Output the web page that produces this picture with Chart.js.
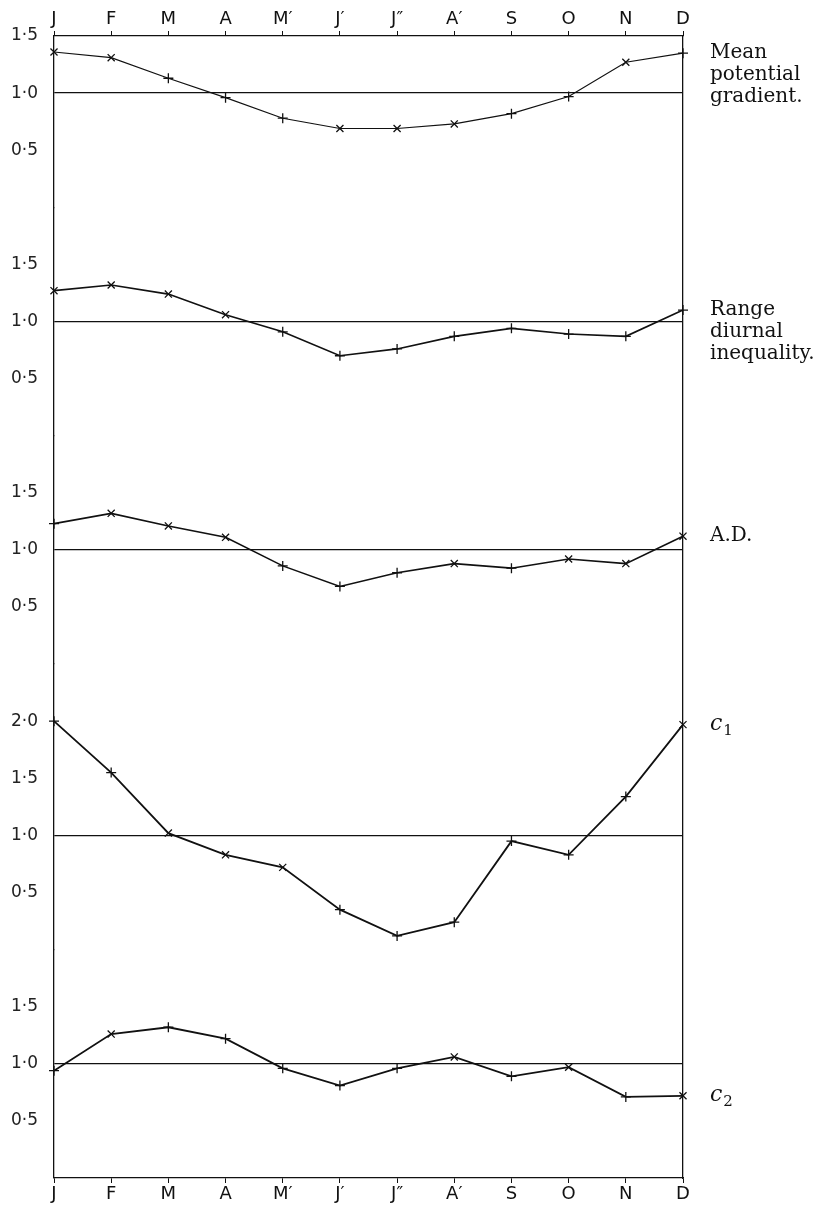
<!DOCTYPE html>
<html>
<head>
<meta charset="utf-8">
<script src="https://cdn.jsdelivr.net/npm/chart.js@4.4.1/dist/chart.umd.min.js"></script>
<style>
    html, body { margin: 0; padding: 0; background: #fff; }
    #wrap { width: 828px; height: 1211px; position: relative; }
</style>
</head>
<body>
<div id="wrap"><canvas id="curves"></canvas></div>
<script>
// months along top and bottom
const months = ['J', 'F', 'M', 'A', 'M′', 'J′', 'J″', 'A′', 'S', 'O', 'N', 'D'];

// values (ratio to yearly mean)
const meanGradient = [1.36, 1.31, 1.13, 0.96, 0.78, 0.69, 0.69, 0.73, 0.82, 0.97, 1.27, 1.35];
const rangeDiurnal = [1.27, 1.32, 1.24, 1.06, 0.91, 0.70, 0.76, 0.87, 0.94, 0.89, 0.87, 1.10];
const adValues     = [1.23, 1.32, 1.21, 1.11, 0.86, 0.68, 0.80, 0.88, 0.84, 0.92, 0.88, 1.12];
const c1Values     = [2.00, 1.55, 1.02, 0.83, 0.72, 0.35, 0.12, 0.24, 0.95, 0.83, 1.34, 1.97];
const c2Values     = [0.94, 1.26, 1.32, 1.22, 0.96, 0.81, 0.96, 1.06, 0.89, 0.97, 0.71, 0.72];

// tick labels shown on each panel
const panelTicks = [
    [0.5, 1.0, 1.5],
    [0.5, 1.0, 1.5],
    [0.5, 1.0, 1.5],
    [0.5, 1.0, 1.5, 2.0],
    [0.5, 1.0, 1.5]
];
const panelMax = [1.5, 2, 2, 2.5, 2];

const panels = [
    { id: 'p1', data: meanGradient, label: ['Mean', 'potential', 'gradient.'], marks: 'xx+++xxx++x+', width: 1.2 },
    { id: 'p2', data: rangeDiurnal, label: ['Range', 'diurnal', 'inequality.'], marks: 'xxxx++++++++', width: 1.6 },
    { id: 'p3', data: adValues, label: ['A.D.'], marks: '+xxx+++x+xxx', width: 1.6 },
    { id: 'p4', data: c1Values, label: ['c', '1'], marks: '++xxx++++++x', width: 1.8 },
    { id: 'p5', data: c2Values, label: ['c', '2'], marks: '+x+++++x+x+x', width: 1.8 }
];

function fmt(v) {
    return v.toFixed(1).replace('.', '·');
}

var monthFont = { family: 'DejaVu Sans', size: 18 };

var scales = {
    x: {
        type: 'category',
        position: 'bottom',
        offset: false,
        border: { color: '#111', width: 1.3 },
        grid: { drawOnChartArea: false, color: '#111', tickLength: 5 },
        ticks: { color: '#111', font: monthFont, padding: 1, maxRotation: 0, autoSkip: false },
        afterFit: function(s) { s.height = 33; }
    },
    xTop: {
        type: 'category',
        position: 'top',
        offset: false,
        border: { color: '#111', width: 1.3 },
        grid: { drawOnChartArea: false, color: '#111', tickLength: 5 },
        ticks: { color: '#111', font: monthFont, padding: 1, maxRotation: 0, autoSkip: false },
        afterFit: function(s) { s.height = 36; }
    },
    yRight: {
        type: 'linear',
        position: 'right',
        border: { color: '#111', width: 1.3 },
        grid: { display: false },
        ticks: { display: false },
        afterFit: function(s) { s.width = 145; }
    }
};

panels.forEach(function(p, i) {
    scales[p.id] = {
        type: 'linear',
        position: 'left',
        stack: 'panels',
        stackWeight: panelMax[i],
        weight: panels.length - i,   // left boxes are laid out in reverse
        min: 0,
        max: panelMax[i],
        border: { color: '#111', width: 1.3 },
        grid: {
            color: function(ctx) { return ctx.tick && ctx.tick.value === 1 ? '#111' : 'rgba(0,0,0,0)'; },
            lineWidth: 1.3,
            drawTicks: false
        },
        ticks: {
            color: '#222',
            font: { family: 'DejaVu Sans', size: 17 },
            padding: 16,
            callback: function(v) { return fmt(v); }
        },
        afterBuildTicks: function(s) {
            s.ticks = panelTicks[i].map(function(v) { return { value: v }; });
        },
        afterFit: function(s) { s.width = 54; }
    };
});

var datasets = panels.map(function(p) {
    return {
        label: p.label.join(' '),
        data: p.data,
        yAxisID: p.id,
        xAxisID: 'x',
        borderColor: '#111',
        borderWidth: p.width,
        tension: 0,
        fill: false,
        pointStyle: p.marks.split('').map(function(m) { return m === 'x' ? 'crossRot' : 'cross'; }),
        pointRadius: 5,
        pointBorderWidth: 1.3,
        pointBorderColor: '#111',
        pointBackgroundColor: '#111'
    };
});

// names on the right, level with the December point
var sideLabels = {
    id: 'sideLabels',
    afterDraw: function(chart) {
        var ctx = chart.ctx;
        var x = chart.chartArea.right + 27;
        ctx.save();
        ctx.fillStyle = '#111';
        ctx.textBaseline = 'middle';
        panels.forEach(function(p) {
            var y = chart.scales[p.id].getPixelForValue(p.data[p.data.length - 1]);
            if (p.label[0] === 'c') {
                ctx.font = 'italic 22px "DejaVu Serif"';
                ctx.fillText('c', x, y);
                var w = ctx.measureText('c').width;
                ctx.font = '15px "DejaVu Serif"';
                ctx.fillText(p.label[1], x + w + 1, y + 6);
            } else {
                ctx.font = '20px "DejaVu Serif"';
                p.label.forEach(function(line, k) {
                    ctx.fillText(line, x, y + k * 22);
                });
            }
        });
        ctx.restore();
    }
};

var chart = new Chart(document.getElementById('curves').getContext('2d'), {
    type: 'line',
    data: { labels: months, datasets: datasets },
    options: {
        responsive: true,
        maintainAspectRatio: false,
        animation: false,
        layout: { padding: 0 },
        plugins: { legend: { display: false }, tooltip: { enabled: false } },
        scales: scales
    },
    plugins: [sideLabels]
});
</script>
</body>
</html>
